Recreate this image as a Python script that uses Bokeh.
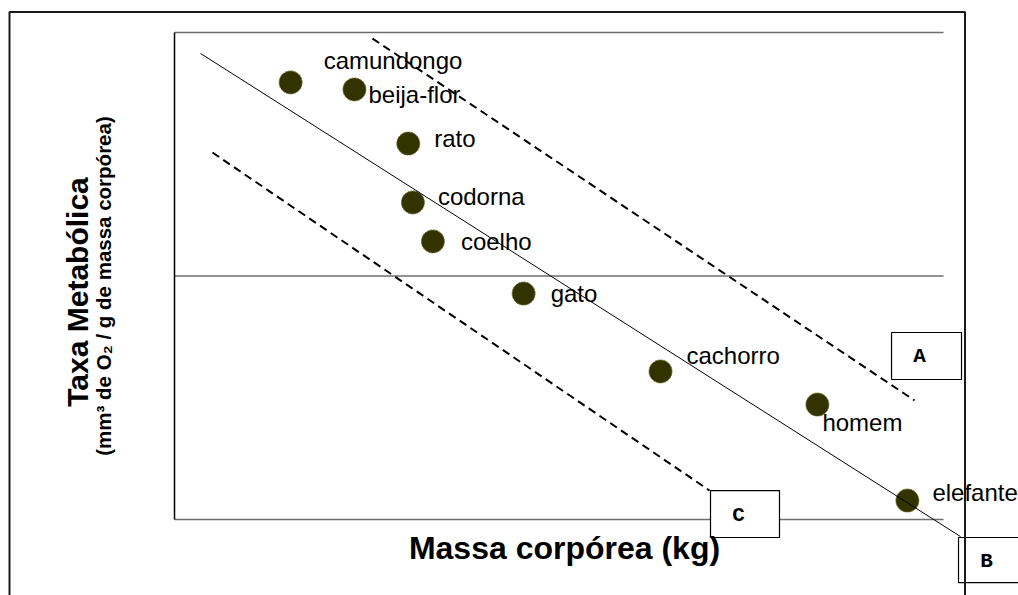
import math
from bokeh.plotting import figure
from bokeh.models import Range1d, LabelSet, Label, ColumnDataSource, BoxAnnotation
from bokeh.core.properties import value
from bokeh.embed import file_html
from bokeh.resources import INLINE

# ---- data (arbitrary linear units, box = 0..10 x 0..2) ----
animals = ["camundongo", "beija-flor", "rato", "codorna", "coelho",
           "gato", "cachorro", "homem", "elefante"]
massa = [1.51, 2.34, 3.04, 3.10, 3.36, 4.54, 6.32, 8.36, 9.53]
taxa = [1.795, 1.766, 1.544, 1.302, 1.142, 0.928, 0.608, 0.472, 0.078]

# label placement (pixels, relative to each point)
label_dx = [33, 14, 26, 25, 28, 27, 26, 5, 25]
label_dy = [13, -14, -3, -3, -9, -8, 7, -26, 0]

# reference lines
fit_x = [0.338, 10.221]
fit_y = [1.914, -0.070]
upper_x = [2.575, 9.623]
upper_y = [1.975, 0.489]
lower_x = [0.494, 6.957]
lower_y = [1.507, 0.119]

# boxes A, B, C
box_names = ["A", "B", "C"]
box_left = [9.324, 10.195, 6.970]
box_right = [10.234, 11.3, 7.867]
box_top = [0.768, -0.074, 0.119]
box_bottom = [0.575, -0.259, -0.074]

# plot box and its horizontal lines
box_x = [0, 10]
y_grid = [0, 1, 2]

# axis titles
x_title = "Massa corpórea (kg)"
y_title = "Taxa Metabólica"
y_subtitle = "(mm³ de O₂ / g de massa corpórea)"

FONT = "Liberation Sans"

p = figure(width=1018, height=595,
           x_range=Range1d(-2.2627, 10.975), y_range=Range1d(-0.3121, 2.1314),
           x_axis_location=None, y_axis_location=None,
           output_backend="svg", toolbar_location=None, min_border=0)
p.outline_line_color = None
p.grid.visible = False
p.background_fill_color = "white"
p.border_fill_color = "white"

# plot box: horizontal lines and left edge
p.segment(x0=[box_x[0]] * len(y_grid), x1=[box_x[1]] * len(y_grid), y0=y_grid, y1=y_grid,
          line_color="#6e6e6e", line_width=1.6)
p.segment(x0=[box_x[0]], x1=[box_x[0]], y0=[y_grid[0]], y1=[y_grid[-1]],
          line_color="black", line_width=1.5)

# points
src = ColumnDataSource(dict(x=massa, y=taxa, name=animals, dx=label_dx, dy=label_dy))
p.scatter("x", "y", source=src, size=23, fill_color="#333300",
          line_color="#6b6b2e", line_width=1, line_dash="2 1")

# lines
p.line(fit_x, fit_y, line_color="black", line_width=1)
p.line(upper_x, upper_y, line_color="black", line_width=2, line_dash="8 5")
p.line(lower_x, lower_y, line_color="black", line_width=2, line_dash="8 5")

# point labels
p.add_layout(LabelSet(x="x", y="y", text="name", x_offset="dx", y_offset="dy", source=src,
                      text_font=value(FONT), text_font_size="24px", text_color="black",
                      text_baseline="alphabetic", text_align="left"))

# boxes A, B, C
for n, l, r, t, b in zip(box_names, box_left, box_right, box_top, box_bottom):
    p.add_layout(BoxAnnotation(left=l, right=r, top=t, bottom=b, fill_color="white",
                               fill_alpha=1, line_color="black", line_alpha=1,
                               line_width=1.2))
    p.add_layout(Label(x=l, y=(t + b) / 2, x_offset=28, y_offset=-1, text=n,
                       text_font="Liberation Mono", text_font_style="bold",
                       text_font_size="21px", text_color="black",
                       text_align="center", text_baseline="middle"))

# outer frame of the figure
p.add_layout(BoxAnnotation(left=9, right=964.5, top=11.5, bottom=700,
                           left_units="canvas", right_units="canvas",
                           top_units="canvas", bottom_units="canvas",
                           fill_color=None, fill_alpha=0, line_color="#1a1a1a",
                           line_alpha=1, line_width=2, level="overlay"))

# axis titles
p.add_layout(Label(x=(box_x[0] + box_x[1]) / 2, y=y_grid[0], x_offset=5.5, y_offset=-28,
                   text=x_title, text_font=FONT, text_font_style="bold",
                   text_font_size="32px", text_color="black",
                   text_align="center", text_baseline="alphabetic"))
p.add_layout(Label(x=box_x[0], y=(y_grid[0] + y_grid[-1]) / 2, x_offset=-97, y_offset=-16,
                   text=y_title, angle=math.pi / 2, text_font=FONT, text_font_style="bold",
                   text_font_size="30px", text_color="black",
                   text_align="center", text_baseline="alphabetic"))
p.add_layout(Label(x=box_x[0], y=(y_grid[0] + y_grid[-1]) / 2, x_offset=-71, y_offset=-10,
                   text=y_subtitle, angle=math.pi / 2, text_font=FONT, text_font_style="bold",
                   text_font_size="20.5px", text_color="black",
                   text_align="center", text_baseline="alphabetic"))

open("out.html", "w").write(file_html(p, INLINE))
